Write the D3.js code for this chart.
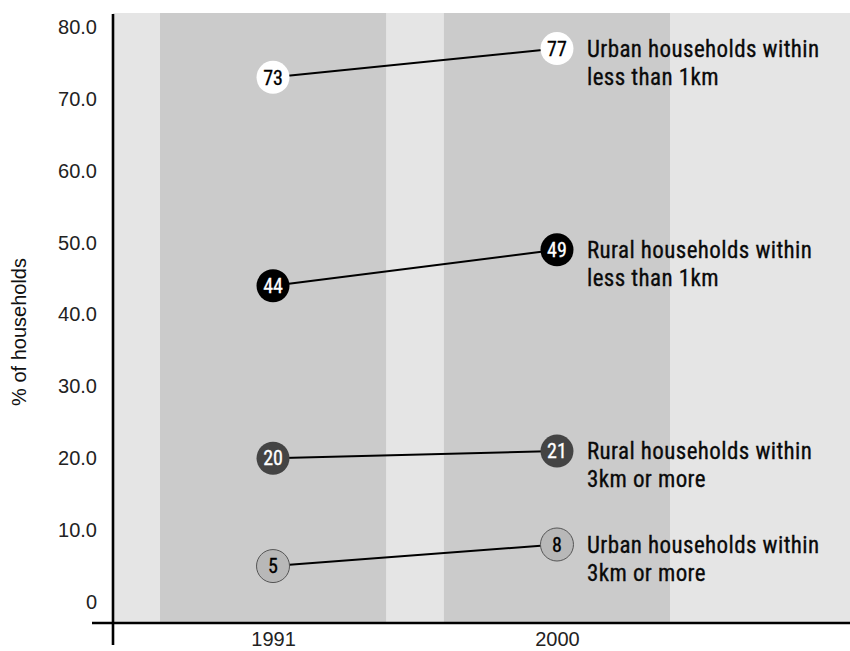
<!DOCTYPE html>
<html>
<head>
<meta charset="utf-8">
<script src="https://cdn.jsdelivr.net/npm/d3@7"></script>
<style>
  body { margin: 0; background: #fff; }
  svg { display: block; }
  .tick text { font-family: "Liberation Sans", Arial, sans-serif; font-size: 20px; fill: #222; }
  .series-label { font-family: "Roboto Condensed", "DejaVu Sans Condensed", sans-serif; font-size: 23px; letter-spacing: 0.4px; fill: #0a0a0a; stroke: #0a0a0a; stroke-width: 0.3px; }
  .dot-label { font-family: "Roboto Condensed", "DejaVu Sans Condensed", sans-serif; font-size: 20px; stroke-width: 0.3px; }
</style>
</head>
<body>
<svg id="chart" width="850" height="651"></svg>
<script>
'use strict';

var years = ['1991', '2000'];
var seriesNames = [
  ['Urban households within', 'less than 1km'],
  ['Rural households within', 'less than 1km'],
  ['Rural households within', '3km or more'],
  ['Urban households within', '3km or more']
];
var values1991 = [73, 44, 20, 5];
var values2000 = [77, 49, 21, 8];
var yTicks = [0, 10, 20, 30, 40, 50, 60, 70, 80];

// marker styles per series
var dotFill = ['#ffffff', '#000000', '#444444', '#b8b8b8'];
var dotStroke = ['none', 'none', 'none', '#555555'];
var dotText = ['#000000', '#ffffff', '#ffffff', '#000000'];

var svg = d3.select('#chart');

var plotLeft = 113, plotRight = 850, plotTop = 13, plotBottom = 623;

var y = d3.scaleLinear().domain([0, 80]).range([602, 27]);
var x = d3.scaleBand().domain(years).range([160, 670])
    .paddingInner(0.204).paddingOuter(0);
function cx(year) { return x(year) + x.bandwidth() / 2; }

// backdrop and year bands
svg.append('rect')
    .attr('x', plotLeft).attr('y', plotTop)
    .attr('width', plotRight - plotLeft).attr('height', plotBottom - plotTop)
    .attr('fill', '#e5e5e5');

svg.selectAll('.band')
    .data(years)
  .enter().append('rect')
    .attr('class', 'band')
    .attr('x', function(d) { return x(d); })
    .attr('y', plotTop)
    .attr('width', x.bandwidth())
    .attr('height', plotBottom - plotTop)
    .attr('fill', '#cbcbcb');

// y axis (labels only, the line is drawn by hand below)
var yAxis = d3.axisLeft(y)
    .tickValues(yTicks)
    .tickSize(0)
    .tickPadding(16)
    .tickFormat(function(d) { return d === 0 ? '0' : d3.format('.1f')(d); });

svg.append('g')
    .attr('transform', 'translate(' + plotLeft + ',0)')
    .call(yAxis)
    .call(function(g) { g.select('.domain').remove(); });

// x axis
var xAxis = d3.axisBottom(d3.scalePoint().domain(years).range([cx('1991'), cx('2000')]))
    .tickSize(0)
    .tickPadding(9);

svg.append('g')
    .attr('transform', 'translate(0,' + plotBottom + ')')
    .call(xAxis)
    .call(function(g) { g.select('.domain').remove(); })
    .selectAll('text').attr('dy', '0.71em');

// axis lines
svg.append('line')
    .attr('x1', plotLeft).attr('x2', plotLeft)
    .attr('y1', 14).attr('y2', 645)
    .attr('stroke', '#000').attr('stroke-width', 2.6);
svg.append('line')
    .attr('x1', 92).attr('x2', plotRight)
    .attr('y1', plotBottom).attr('y2', plotBottom)
    .attr('stroke', '#000').attr('stroke-width', 2.6);

// axis title
svg.append('text')
    .attr('transform', 'translate(26,332) rotate(-90)')
    .attr('text-anchor', 'middle')
    .style('font-family', '"Liberation Sans", Arial, sans-serif')
    .style('font-size', '20px')
    .style('fill', '#111')
    .text('% of households');

var rows = seriesNames.map(function(name, i) {
  return {name: name, i: i, a: values1991[i], b: values2000[i]};
});

// connecting lines
svg.selectAll('.link')
    .data(rows)
  .enter().append('line')
    .attr('class', 'link')
    .attr('x1', cx('1991')).attr('y1', function(d) { return y(d.a); })
    .attr('x2', cx('2000')).attr('y2', function(d) { return y(d.b); })
    .attr('stroke', '#000').attr('stroke-width', 2);

// dots
var dots = [];
rows.forEach(function(r) {
  dots.push({i: r.i, year: '1991', v: r.a});
  dots.push({i: r.i, year: '2000', v: r.b});
});

var dot = svg.selectAll('.dot')
    .data(dots)
  .enter().append('g')
    .attr('class', 'dot')
    .attr('transform', function(d) { return 'translate(' + cx(d.year) + ',' + y(d.v) + ')'; });

dot.append('circle')
    .attr('r', 16.5)
    .attr('fill', function(d) { return dotFill[d.i]; })
    .attr('stroke', function(d) { return dotStroke[d.i]; })
    .attr('stroke-width', 1);

dot.append('text')
    .attr('class', 'dot-label')
    .attr('text-anchor', 'middle')
    .attr('dy', '0.36em')
    .attr('fill', function(d) { return dotText[d.i]; })
    .attr('stroke', function(d) { return dotText[d.i]; })
    .text(function(d) { return d.v; });

// series labels next to the 2000 dots
var lab = svg.selectAll('.series-label')
    .data(rows)
  .enter().append('text')
    .attr('class', 'series-label')
    .attr('x', cx('2000') + 30)
    .attr('y', function(d) { return y(d.b) + 8; });

lab.selectAll('tspan')
    .data(function(d) { return d.name; })
  .enter().append('tspan')
    .attr('x', cx('2000') + 30)
    .attr('dy', function(d, j) { return j === 0 ? 0 : 28; })
    .text(function(d) { return d; });
</script>
</body>
</html>
